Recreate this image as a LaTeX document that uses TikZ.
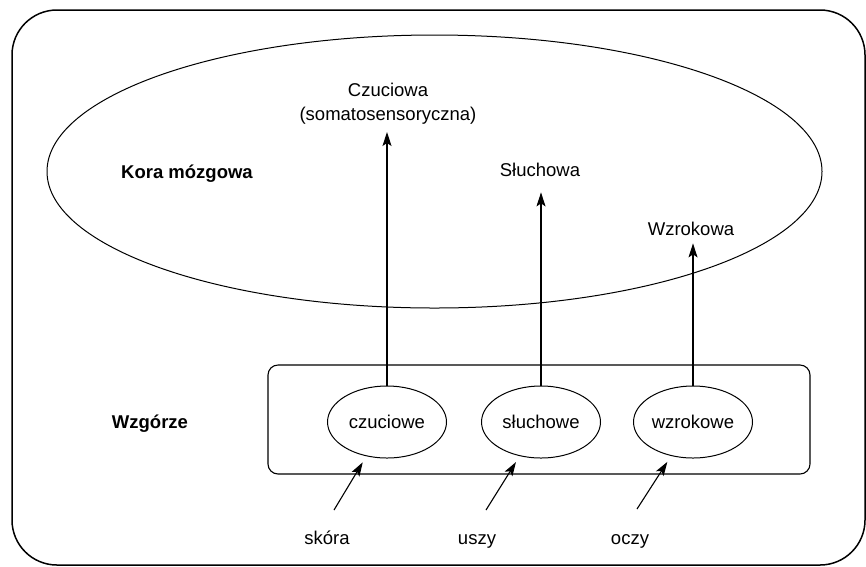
\documentclass[tikz,border=0pt]{standalone}
\usepackage{fontspec}
\setmainfont{Liberation Sans}
\usetikzlibrary{shapes.geometric, arrows.meta}

\begin{document}
\begin{tikzpicture}[
        x=1pt, y=-1pt,
        txt/.style={font=\fontsize{18.5}{24}\selectfont, inner sep=3pt, align=center},
        heading/.style={font=\fontsize{18.5}{24}\selectfont\bfseries, inner sep=3pt},
        nucleus/.style={ellipse, draw, line width=1pt, minimum width=119pt, minimum height=72pt, inner sep=0pt, font=\fontsize{18.5}{24}\selectfont},
        arrow/.style={-{Stealth[length=14pt, width=9pt, inset=3pt]}, line width=1.1pt}
    ]
        \useasboundingbox (0,0) rectangle (866,566);
        \draw[line width=1.5pt, rounded corners=45pt] (12,10) rectangle (865,565);

        % kora
        \node[ellipse, draw, line width=1pt, minimum width=775pt, minimum height=273pt, inner sep=0pt] (cortex) at (434.5,171.5) {};
        \node[heading, anchor=base] (kora) at (187,178) {Kora mózgowa};
        \node[txt, anchor=south] (czuciowa) at (388,128) {Czuciowa\\(somatosensoryczna)};
        \node[txt, anchor=base] (sluchowa) at (540,176) {Słuchowa};
        \node[txt, anchor=base] (wzrokowa) at (691,235) {Wzrokowa};

        % wzgorze
        \node[draw, line width=1.1pt, rounded corners=10pt, minimum width=542pt, minimum height=109pt] (thalamus) at (539,419.5) {};
        \node[heading, anchor=base] (wzgorze) at (150,428) {Wzgórze};
        \node[nucleus] (czuciowe) at (387,422) {czuciowe};
        \node[nucleus] (sluchowe) at (541,422) {słuchowe};
        \node[nucleus] (wzrokowe) at (693,422) {wzrokowe};

        \draw[arrow, shorten >=4pt] (czuciowe.north) -- (czuciowe.north |- czuciowa.south);
        \draw[arrow, shorten >=13pt] (sluchowe.north) -- (sluchowe.north |- sluchowa.south);
        \draw[arrow, shorten >=5pt] (wzrokowe.north) -- (wzrokowe.north |- wzrokowa.south);

        % zmysly
        \node[txt, anchor=base] (skora) at (327,544) {skóra};
        \node[txt, anchor=base] (uszy) at (477,544) {uszy};
        \node[txt, anchor=base] (oczy) at (630,544) {oczy};
        \coordinate (skin) at (334,510);
        \coordinate (ears) at (486,510);
        \coordinate (eyes) at (637,509);

        \draw[arrow, shorten >=7pt] (skin) -- (czuciowe);
        \draw[arrow, shorten >=7pt] (ears) -- (sluchowe);
        \draw[arrow, shorten >=7pt] (eyes) -- (wzrokowe);
    \end{tikzpicture}
\end{document}
